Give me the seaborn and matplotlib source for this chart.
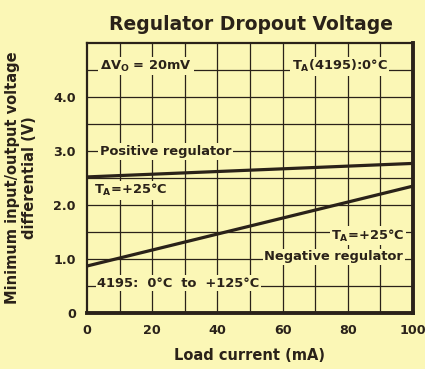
import matplotlib
matplotlib.use("Agg")
import matplotlib.pyplot as plt
import numpy as np
import pandas as pd
import seaborn as sns

# Load current (mA) at the end points of each straight curve
load_current = [0, 100]
positive_dropout = [2.52, 2.77]
negative_dropout = [0.87, 2.35]
series_names = ["Positive regulator", "Negative regulator"]

x_ticks = [0, 20, 40, 60, 80, 100]
y_ticks = [0, 1.0, 2.0, 3.0, 4.0]
y_tick_labels = ["0", "1.0", "2.0", "3.0", "4.0"]

BG = "#FBF7B6"
INK = "#2A2219"

sns.set_theme(style="ticks")
plt.rcParams["font.family"] = ["DejaVu Sans"]
plt.rcParams["font.weight"] = "bold"
plt.rcParams["axes.labelweight"] = "bold"
plt.rcParams["mathtext.default"] = "bf"

df = pd.DataFrame({
    "current": load_current * 2,
    "voltage": positive_dropout + negative_dropout,
    "series": [series_names[0]] * 2 + [series_names[1]] * 2,
})

fig = plt.figure(figsize=(4.25, 3.69), dpi=100, facecolor=BG)
ax = fig.add_axes([87 / 425, 1 - 313 / 369, 326 / 425, 270 / 369])
ax.set_facecolor(BG)

ax.set_xlim(0, 100)
ax.set_ylim(0, 5)

# fine grid: 10 mA by 0.5 V
for gx in np.arange(10, 100, 10):
    ax.axvline(gx, color=INK, lw=0.9, zorder=1)
for gy in np.arange(0.5, 5.0, 0.5):
    ax.axhline(gy, color=INK, lw=0.9, zorder=1)

sns.lineplot(data=df, x="current", y="voltage", hue="series",
             palette=[INK, INK], linewidth=2.3, legend=False, ax=ax, zorder=3)

box = dict(boxstyle="square,pad=0.12", fc=BG, ec="none")
tkw = dict(fontsize=9.4, color=INK, va="center", bbox=box, zorder=4)
ax.text(4.0, 4.57, r"$\Delta V_O$ = 20mV", ha="left", **tkw)
ax.text(92.3, 4.57, r"$T_A$(4195):0°C", ha="right", **tkw)
ax.text(4.0, 2.99, "Positive regulator", ha="left", **tkw)
ax.text(2.0, 2.27, r"$T_A$=+25°C", ha="left", **tkw)
ax.text(97.5, 1.43, r"$T_A$=+25°C", ha="right", **tkw)
ax.text(97.0, 1.04, "Negative regulator", ha="right", **tkw)
ax.text(3.2, 0.55, "4195:  0°C  to  +125°C", ha="left", **tkw)

ax.set_xticks(x_ticks)
ax.set_yticks(y_ticks)
ax.set_yticklabels(y_tick_labels)
ax.tick_params(length=0, labelsize=9.2, colors=INK, pad=8)

for side in ["left", "top"]:
    ax.spines[side].set_linewidth(1.6)
    ax.spines[side].set_color(INK)
for side in ["right", "bottom"]:
    ax.spines[side].set_linewidth(2.8)
    ax.spines[side].set_color(INK)

ax.set_xlabel("Load current (mA)", fontsize=10.5, color=INK, labelpad=8)
ax.set_ylabel("Minimum input/output voltage\ndifferential (V)", fontsize=10.5,
              color=INK, labelpad=12, linespacing=1.1)
fig.text(251 / 425, 1 - 24 / 369, "Regulator Dropout Voltage", fontsize=13.5,
         color=INK, ha="center", va="center")

fig.savefig("out.png", dpi=100, facecolor=BG)
